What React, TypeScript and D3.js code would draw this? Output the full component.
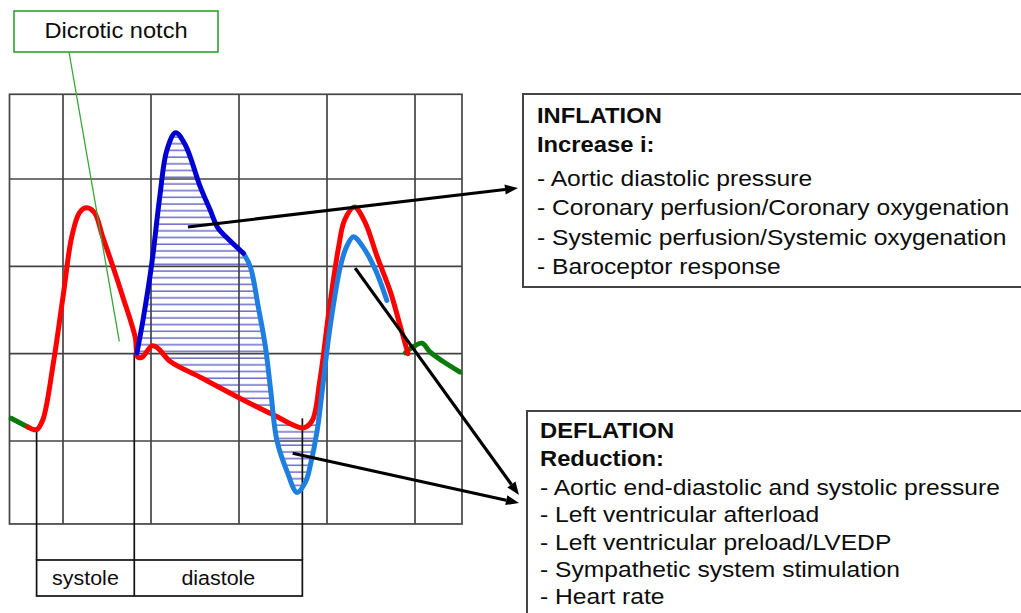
import React from 'react';
import * as d3 from 'd3';

// [time in grid columns, pressure in grid rows]
type Pt = [number, number];

const gridT = [0, 1, 2, 3, 4];
const gridP = [1, 2, 3, 4];
const boxT: [number, number] = [-0.608, 4.534];
const boxP: [number, number] = [0.05, 4.97];

const greenBefore: Pt[] = [[-0.59, 1.26], [-0.4, 1.16]];
const aorticRed: Pt[] = [
  [-0.4, 1.16], [-0.3, 1.13], [-0.23, 1.24], [-0.11, 1.89], [0, 2.65], [0.1, 3.34],
  [0.19, 3.62], [0.27, 3.67], [0.36, 3.61], [0.45, 3.34], [0.57, 2.99], [0.68, 2.65],
  [0.82, 2.19], [0.85, 1.96], [0.9, 1.96], [1.01, 2.09], [1.07, 2.07], [1.22, 1.91],
  [1.56, 1.73], [2.01, 1.49], [2.39, 1.3], [2.73, 1.15], [2.83, 1.23], [2.92, 1.7],
  [3.02, 2.47], [3.13, 3.21], [3.2, 3.53], [3.31, 3.68], [3.43, 3.51], [3.57, 3.11],
  [3.72, 2.71], [3.82, 2.36], [3.92, 2.0],
];
const greenAfter: Pt[] = [[3.89, 2.01], [3.98, 2.08], [4.08, 2.12], [4.17, 2.02], [4.32, 1.91], [4.51, 1.79]];
const inflationBlue: Pt[] = [
  [0.84, 2.01], [0.91, 2.39], [1.01, 3.04], [1.1, 3.8], [1.18, 4.33], [1.28, 4.53],
  [1.39, 4.39], [1.56, 3.91], [1.67, 3.65], [1.76, 3.44], [1.86, 3.33], [2.05, 3.15],
];
const deflationBlue: Pt[] = [
  [2.05, 3.15], [2.13, 2.99], [2.22, 2.53], [2.3, 2.08], [2.36, 1.58], [2.43, 1.01],
  [2.55, 0.64], [2.66, 0.41], [2.76, 0.54], [2.81, 0.72], [2.89, 1.13], [2.96, 1.7],
  [3.03, 2.27], [3.15, 2.99], [3.22, 3.22], [3.3, 3.34], [3.41, 3.22], [3.55, 2.96],
  [3.68, 2.61],
];

// phase markers: time and the pressure where the marker line starts
const phaseMarks: Pt[] = [[-0.3, 1.13], [0.81, 2.01], [2.72, 1.26]];
const phases = [
  { label: 'systole', from: -0.3, to: 0.81 },
  { label: 'diastole', from: 0.81, to: 2.72 },
];
const notchPointer: Pt = [0.64, 2.14];
const inflationArrowFrom: Pt = [1.42, 3.45];
const deflationArrowsFrom: Pt[] = [[3.32, 2.98], [2.61, 0.86]];

const inflationTitle = ['INFLATION', 'Increase i:'];
const inflationLines = [
  '- Aortic diastolic pressure',
  '- Coronary perfusion/Coronary oxygenation',
  '- Systemic perfusion/Systemic oxygenation',
  '- Baroceptor response',
];
const deflationTitle = ['DEFLATION', 'Reduction:'];
const deflationLines = [
  '- Aortic end-diastolic and systolic pressure',
  '- Left ventricular afterload',
  '- Left ventricular preload/LVEDP',
  '- Sympathetic system stimulation',
  '- Heart rate',
];

const W = 1021;
const H = 613;
const FONT = '"Liberation Sans", Arial, sans-serif';

const x = d3.scaleLinear().domain([0, 4]).range([63, 415]);
const y = d3.scaleLinear().domain([1, 4]).range([441, 179]);

const line = d3.line<Pt>().x(d => x(d[0])).y(d => y(d[1])).curve(d3.curveCatmullRom.alpha(0.5));
const areaDown = d3.area<Pt>().x(d => x(d[0])).y0(d => y(d[1])).y1(H).curve(d3.curveCatmullRom.alpha(0.5));
const areaUp = d3.area<Pt>().x(d => x(d[0])).y0(0).y1(d => y(d[1])).curve(d3.curveCatmullRom.alpha(0.5));

const blueAll = [...inflationBlue, ...deflationBlue.slice(1)];

const Stretch: React.FC<{ x: number; y: number; sx: number; size: number; bold?: boolean; anchor?: string; children: React.ReactNode }> = ({ x, y, sx, size, bold, anchor, children }) => (
  <text
    transform={`translate(${x},${y}) scale(${sx},1)`}
    fontFamily={FONT}
    fontSize={size}
    fontWeight={bold ? 'bold' : 'normal'}
    textAnchor={anchor || 'start'}
    fill="#0d0d0d"
  >
    {children}
  </text>
);

const Arrow: React.FC<{ x1: number; y1: number; x2: number; y2: number }> = ({ x1, y1, x2, y2 }) => {
  const a = Math.atan2(y2 - y1, x2 - x1);
  const len = 13;
  const half = 5;
  const bx = x2 - len * Math.cos(a);
  const by = y2 - len * Math.sin(a);
  const px = -Math.sin(a) * half;
  const py = Math.cos(a) * half;
  return (
    <g>
      <line x1={x1} y1={y1} x2={bx} y2={by} stroke="#000" strokeWidth={3.2} />
      <path d={`M${x2},${y2}L${bx + px},${by + py}L${bx - px},${by - py}Z`} fill="#000" />
    </g>
  );
};

export default function App() {
  const x0 = x(boxT[0]);
  const x1 = x(boxT[1]);
  const yTop = y(boxP[1]);
  const yBot = y(boxP[0]);
  const phaseTop = 560;
  const phaseBot = 596;

  return (
    <svg width={W} height={H} style={{ position: 'absolute', left: 0, top: 0, background: '#fff' }}>
      <defs>
        <pattern id="hatch" patternUnits="userSpaceOnUse" width={20} height={6.7}>
          <line x1={0} x2={20} y1={3} y2={3} stroke="#3434b8" strokeWidth={1.1} />
        </pattern>
        <clipPath id="belowBlue"><path d={areaDown(blueAll) || ''} /></clipPath>
        <clipPath id="aboveRed"><path d={areaUp(aorticRed) || ''} /></clipPath>
        <clipPath id="aboveBlue"><path d={areaUp(blueAll) || ''} /></clipPath>
        <clipPath id="belowRed"><path d={areaDown(aorticRed) || ''} /></clipPath>
      </defs>

      {/* grid */}
      <g stroke="#444" strokeWidth={1.7}>
        {gridT.map(t => <line key={'t' + t} x1={x(t)} x2={x(t)} y1={yTop} y2={yBot} />)}
        {gridP.map(p => <line key={'p' + p} x1={x0} x2={x1} y1={y(p)} y2={y(p)} />)}
        <rect x={x0} y={yTop} width={x1 - x0} height={yBot - yTop} fill="none" />
      </g>

      {/* hatched areas */}
      <g clipPath="url(#belowBlue)">
        <rect clipPath="url(#aboveRed)" x={x(0.8)} y={0} width={x(2.6) - x(0.8)} height={H} fill="url(#hatch)" />
      </g>
      <g clipPath="url(#aboveBlue)">
        <rect clipPath="url(#belowRed)" x={x(2.38)} y={0} width={x(2.95) - x(2.38)} height={H} fill="url(#hatch)" />
      </g>

      {/* phase markers */}
      <g stroke="#111" strokeWidth={1.7} fill="none">
        {phaseMarks.map(([t, p], i) => (
          <line key={i} x1={x(t)} x2={x(t)} y1={y(p)} y2={i === 1 ? phaseBot : phaseTop} />
        ))}
        <rect x={x(phases[0].from)} y={phaseTop} width={x(phases[1].to) - x(phases[0].from)} height={phaseBot - phaseTop} />
      </g>
      {phases.map(ph => (
        <Stretch key={ph.label} x={(x(ph.from) + x(ph.to)) / 2} y={585} sx={1.1} size={19.5} anchor="middle">
          {ph.label}
        </Stretch>
      ))}

      {/* curves */}
      <g fill="none" strokeWidth={5} strokeLinecap="round" strokeLinejoin="round">
        <path d={line(greenAfter) || ''} stroke="#0b7a0b" />
        <path d={line(greenBefore) || ''} stroke="#0b7a0b" />
        <path d={line(aorticRed) || ''} stroke="#ff0000" />
        <path d={line(deflationBlue) || ''} stroke="#1f7fe0" />
        <path d={line(inflationBlue) || ''} stroke="#0000d0" />
      </g>

      {/* dicrotic notch label */}
      <rect x={14} y={11} width={204} height={41} fill="#fff" stroke="#3aa63a" strokeWidth={1.7} />
      <Stretch x={116} y={38} sx={1.1} size={21.5} anchor="middle">Dicrotic notch</Stretch>
      <line x1={69} y1={52} x2={x(notchPointer[0])} y2={y(notchPointer[1])} stroke="#3aa63a" strokeWidth={1.3} />

      {/* arrows */}
      <Arrow x1={x(inflationArrowFrom[0])} y1={y(inflationArrowFrom[1])} x2={518} y2={188} />
      <Arrow x1={x(deflationArrowsFrom[0][0])} y1={y(deflationArrowsFrom[0][1])} x2={519} y2={495} />
      <Arrow x1={x(deflationArrowsFrom[1][0])} y1={y(deflationArrowsFrom[1][1])} x2={519} y2={503} />

      {/* inflation box */}
      <rect x={523} y={94} width={520} height={193} fill="#fff" stroke="#444" strokeWidth={2} />
      {inflationTitle.map((s, i) => (
        <Stretch key={s} x={537} y={123 + i * 29} sx={1.08} size={22} bold>{s}</Stretch>
      ))}
      {inflationLines.map((s, i) => (
        <Stretch key={s} x={537} y={186 + i * 29.3} sx={1.12} size={22}>{s}</Stretch>
      ))}

      {/* deflation box */}
      <rect x={527} y={411} width={520} height={230} fill="#fff" stroke="#444" strokeWidth={2} />
      {deflationTitle.map((s, i) => (
        <Stretch key={s} x={540} y={438 + i * 28} sx={1.08} size={22} bold>{s}</Stretch>
      ))}
      {deflationLines.map((s, i) => (
        <Stretch key={s} x={540} y={495 + i * 27.3} sx={1.12} size={22}>{s}</Stretch>
      ))}
    </svg>
  );
}
